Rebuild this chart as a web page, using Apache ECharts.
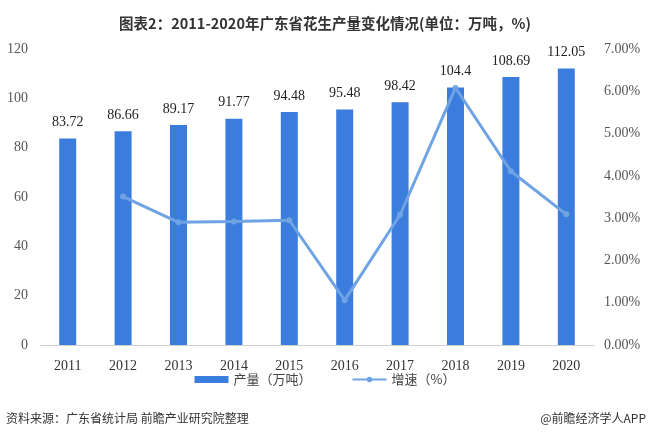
<!DOCTYPE html>
<html><head><meta charset="utf-8">
<script src="https://cdn.jsdelivr.net/npm/echarts@6/dist/echarts.min.js"></script>
<style>html,body{margin:0;padding:0;background:#fff;}#c{width:650px;height:440px;}</style>
</head><body><div id="c"></div>
<script>
var years = ['2011','2012','2013','2014','2015','2016','2017','2018','2019','2020'];
var output = [83.72,86.66,89.17,91.77,94.48,95.48,98.42,104.4,108.69,112.05];
var growth = [null,3.51,2.90,2.92,2.95,1.06,3.08,6.08,4.11,3.09];
var leftTicks = [0,20,40,60,80,100,120];
var rightTicks = [0,1,2,3,4,5,6,7];

var chart = echarts.init(document.getElementById('c'));
var serif = '"Liberation Serif", "Times New Roman", serif';
var sans = '"Noto Sans CJK SC", sans-serif';
chart.setOption({
  animation:false,
  backgroundColor:'#fff',
  title:{text:'图表2：2011-2020年广东省花生产量变化情况(单位：万吨，%)',left:'center',top:11,
    textStyle:{fontFamily:sans,fontSize:14.5,fontWeight:'bold',color:'#333'}},
  legend:{bottom:49,itemGap:40,itemWidth:34,itemHeight:7,
    textStyle:{fontFamily:sans,fontSize:13,color:'#444'},
    data:[{name:'产量（万吨）',icon:'rect'},{name:'增速（%）'}]},
  grid:{left:40,right:56,top:49,bottom:95},
  xAxis:{type:'category',data:years,
    axisLine:{lineStyle:{color:'#d0d0d0'}},axisTick:{show:false},
    axisLabel:{fontFamily:serif,fontSize:14,color:'#333',margin:14}},
  yAxis:[
    {type:'value',min:leftTicks[0],max:leftTicks[leftTicks.length-1],interval:20,
     splitLine:{show:false},axisLine:{show:false},axisTick:{show:false},
     axisLabel:{fontFamily:serif,fontSize:14,color:'#555',margin:12}},
    {type:'value',min:rightTicks[0],max:rightTicks[rightTicks.length-1],interval:1,
     splitLine:{show:false},axisLine:{show:false},axisTick:{show:false},
     axisLabel:{fontFamily:serif,fontSize:14,color:'#555',margin:10,
       formatter:function(v){return v.toFixed(2)+'%';}}}
  ],
  graphic:[
    {type:'text',left:6,top:412,style:{text:'资料来源：广东省统计局 前瞻产业研究院整理',
      font:'12px "Noto Sans CJK SC", sans-serif',fill:'#333'}},
    {type:'text',right:4,top:412,style:{text:'@前瞻经济学人APP',
      font:'12px "Noto Sans CJK SC", sans-serif',fill:'#333'}}
  ],
  series:[
    {name:'产量（万吨）',type:'bar',data:output,barWidth:17,
     itemStyle:{color:'#3b7ddd'},
     label:{show:true,position:'top',distance:9,fontFamily:serif,fontSize:14,color:'#222'}},
    {name:'增速（%）',type:'line',yAxisIndex:1,data:growth,
     lineStyle:{color:'#6fa3e3',width:3},itemStyle:{color:'#6fa3e3'},
     symbol:'circle',symbolSize:6,showSymbol:true}
  ]
});
</script></body></html>
